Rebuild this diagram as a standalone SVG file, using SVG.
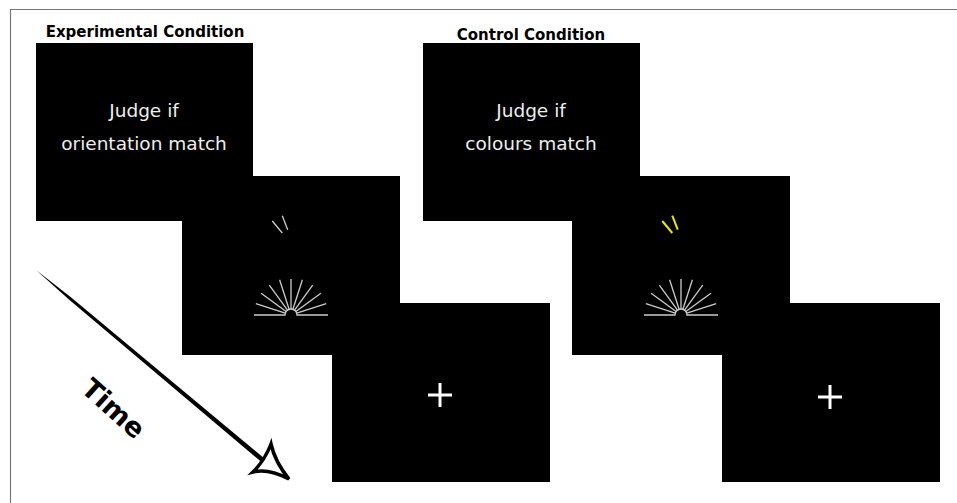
<svg xmlns="http://www.w3.org/2000/svg" width="957" height="503" viewBox="0 0 957 503">
<style>
.scr{fill:#000}
.hdr{font-family:"DejaVu Sans",sans-serif;font-weight:bold;font-size:15px;fill:#000;text-anchor:middle}
.inst{font-family:"DejaVu Sans",sans-serif;font-size:18.5px;fill:#eee;text-anchor:middle}
.ray{stroke:#ccc;stroke-width:1.3;fill:none}
.cross{stroke:#fff;stroke-width:3;fill:none}
</style>
<defs>
<g id="fan">
<path class="ray" d="M-37,0 H-6 A6,6 0 0 1 6,0 H37"/>
<g class="ray">
<line x1="-5.7" y1="-1.9" x2="-35.2" y2="-11.4"/>
<line x1="-4.9" y1="-3.5" x2="-29.9" y2="-21.7"/>
<line x1="-3.5" y1="-4.9" x2="-21.7" y2="-29.9"/>
<line x1="-1.9" y1="-5.7" x2="-11.4" y2="-35.2"/>
<line x1="0" y1="-6" x2="0" y2="-36"/>
<line x1="1.9" y1="-5.7" x2="11.4" y2="-35.2"/>
<line x1="3.5" y1="-4.9" x2="21.7" y2="-29.9"/>
<line x1="4.9" y1="-3.5" x2="29.9" y2="-21.7"/>
<line x1="5.7" y1="-1.9" x2="35.2" y2="-11.4"/>
</g>
</g>
</defs>
<rect width="957" height="503" fill="#fff"/>
<path d="M10.5,503 V9.5 H957" fill="none" stroke="#777" stroke-width="1.2"/>

<g id="exp-title"><text class="hdr" x="145" y="37">Experimental Condition</text></g>
<g id="exp-screen1">
<rect class="scr" x="36" y="43" width="217" height="178"/>
<text class="inst" x="144" y="117">Judge if</text>
<text class="inst" x="144" y="150">orientation match</text>
</g>
<g id="exp-screen2">
<rect class="scr" x="182" y="176" width="218" height="179"/>
<line x1="272.3" y1="221" x2="282.3" y2="233" stroke="#ccc" stroke-width="1.3"/>
<line x1="282.3" y1="215.7" x2="287.7" y2="229.7" stroke="#ccc" stroke-width="1.3"/>
<use href="#fan" x="291" y="315"/>
</g>
<g id="exp-screen3">
<rect class="scr" x="332" y="303" width="218" height="179"/>
<path class="cross" d="M428,395 H452 M440,383 V407"/>
</g>

<g id="ctl-title"><text class="hdr" x="531" y="40">Control Condition</text></g>
<g id="ctl-screen1">
<rect class="scr" x="423" y="43" width="217" height="178"/>
<text class="inst" x="531" y="117">Judge if</text>
<text class="inst" x="531" y="150">colours match</text>
</g>
<g id="ctl-screen2">
<rect class="scr" x="572" y="176" width="218" height="179"/>
<line x1="662.3" y1="221" x2="672.3" y2="233" stroke="#e8e800" stroke-width="2"/>
<line x1="672.3" y1="215.7" x2="677.7" y2="229.7" stroke="#e8e800" stroke-width="2"/>
<use href="#fan" x="681" y="315"/>
</g>
<g id="ctl-screen3">
<rect class="scr" x="722" y="303" width="218" height="179"/>
<path class="cross" d="M818,397 H842 M830,385 V409"/>
</g>

<g id="connectors">
<polygon points="36,270 71.5,297.8 266.5,460.2 263.5,463.8 69.5,300.1" fill="#000"/>
<path d="M289,479 Q268,468 253,472 Q265,460 271,444 Q275,462 289,479 Z" fill="#fff" stroke="#000" stroke-width="3.5" stroke-linejoin="miter"/>
</g>
<g id="time-label">
<text x="114" y="418" transform="rotate(42 114 408)" font-family="DejaVu Sans, sans-serif" font-weight="bold" font-size="27" text-anchor="middle" fill="#000">Time</text>
</g>
</svg>
